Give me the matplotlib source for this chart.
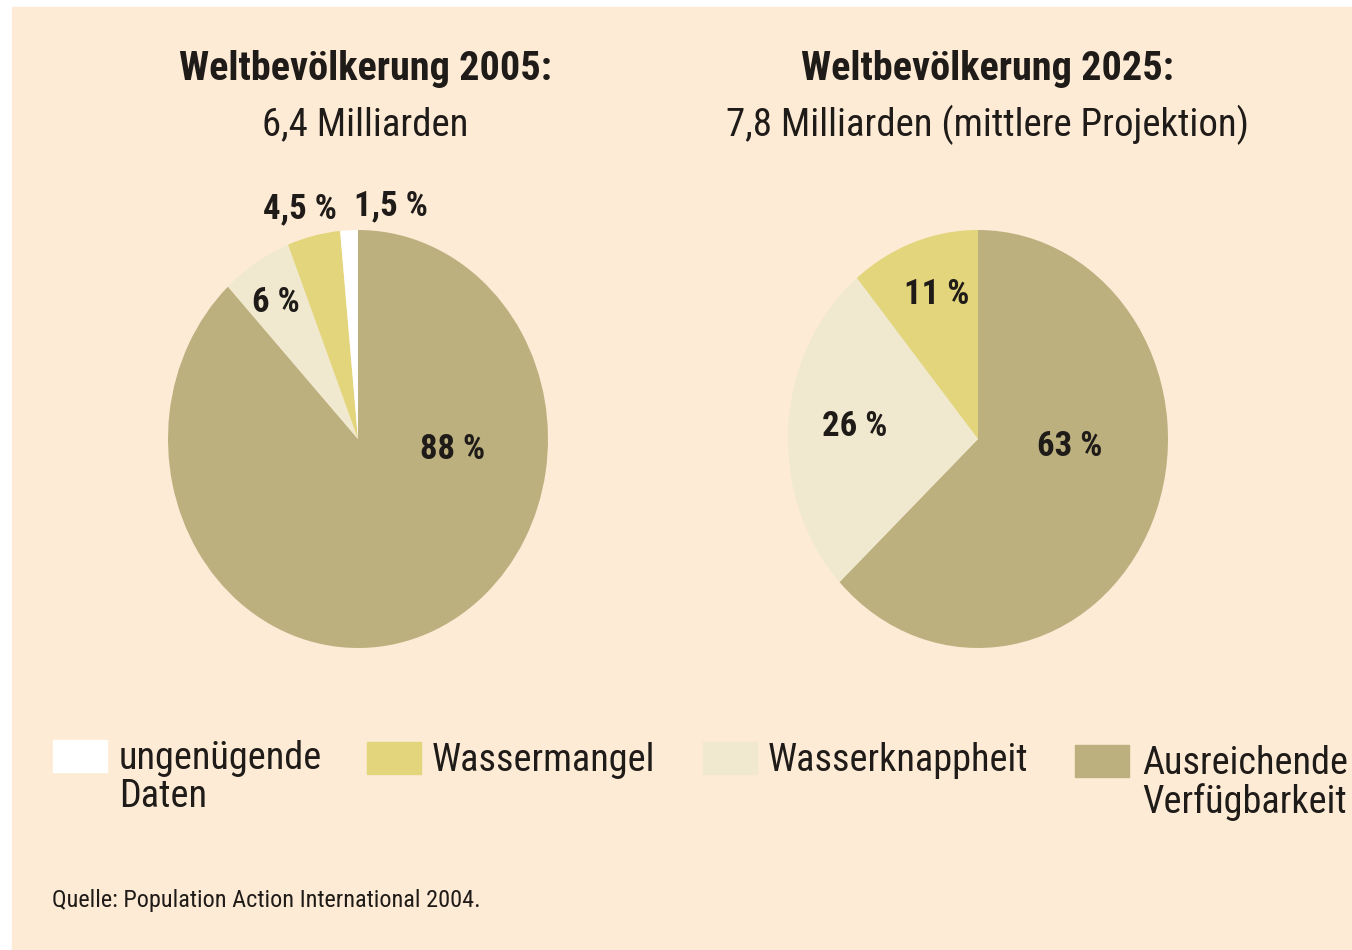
import matplotlib
matplotlib.use("Agg")
import matplotlib.pyplot as plt
from matplotlib.patches import Rectangle

plt.rcParams['font.family'] = ['Roboto Condensed', 'Archivo Narrow', 'PT Sans Narrow',
                               'Liberation Sans Narrow', 'DejaVu Sans']

# data
categories = ["ungenügende\nDaten", "Wassermangel", "Wasserknappheit", "Ausreichende\nVerfügbarkeit"]
share_2005 = [1.5, 4.5, 6, 88]
share_2025 = [0, 11, 26, 63]
labels_2005 = ["1,5 %", "4,5 %", "6 %", "88 %"]
labels_2025 = ["", "11 %", "26 %", "63 %"]
titles = ["Weltbevölkerung 2005:", "Weltbevölkerung 2025:"]
subtitles = ["6,4 Milliarden", "7,8 Milliarden (mittlere Projektion)"]
source = "Quelle: Population Action International 2004."

colors = ["#ffffff", "#e3d57b", "#f0e9cf", "#bcb07f"]
bg = "#fdebd5"
ink = "#1f1b18"

W, H = 1352, 950
fig = plt.figure(figsize=(W / 100, H / 100), dpi=100)
fig.patch.set_facecolor("white")
fig.patches.append(Rectangle((12 / W, 0), 1 - 12 / W, 1 - 7 / H,
                             transform=fig.transFigure, color=bg, zorder=-5))


def px(x, y):
    return x / W, 1 - y / H


def draw_pie(left, vals, labs, label_pos):
    # pie box in pixels: left..left+380, y 230..648
    x0, y1 = px(left, 648)
    ax = fig.add_axes([x0, y1, 380 / W, 418 / H])
    ax.patch.set_visible(False)
    order = [3, 2, 1, 0]  # clockwise from top: Ausreichende, Knappheit, Mangel, ungenügend
    ax.pie([vals[i] for i in order], colors=[colors[i] for i in order],
           startangle=90, counterclock=False, radius=1,
           wedgeprops=dict(linewidth=0))
    ax.set_aspect('auto')
    ax.set_xlim(-1, 1)
    ax.set_ylim(-1, 1)
    ax.axis('off')
    for lab, (lx, ly) in zip(labs, label_pos):
        if lab:
            fig.text(*px(lx, ly), lab, fontsize=25, fontweight='bold',
                     color=ink, ha='center', va='center')


draw_pie(168, share_2005, labels_2005,
         [(391, 206), (300, 209), (276, 303), (453, 450)])
draw_pie(788, share_2025, labels_2025,
         [(0, 0), (937, 294), (855, 427), (1070, 447)])

for cx, t, s in zip([365, 987], titles, subtitles):
    fig.text(*px(cx, 69), t, fontsize=29, fontweight='bold', color=ink,
             ha='center', va='center')
    fig.text(*px(cx, 125), s, fontsize=28, color=ink, ha='center', va='center')

# legend
box_x = [53, 367, 703, 1075]
box_y = [740, 742, 742, 745]
text_x = [119, 432, 768, 1142]
for i, cat in enumerate(categories):
    bx, by = px(box_x[i], box_y[i] + 32)
    fig.patches.append(Rectangle((bx, by), 54 / W, 32 / H,
                                 transform=fig.transFigure, color=colors[i], zorder=1))
    fig.text(*px(text_x[i], box_y[i]), cat, fontsize=27.5, color=ink,
             ha='left', va='top', linespacing=1.05)

fig.text(*px(52, 900), source, fontsize=17.5, color=ink, ha='left', va='center')

fig.savefig("out.png", dpi=100, facecolor=fig.get_facecolor())
